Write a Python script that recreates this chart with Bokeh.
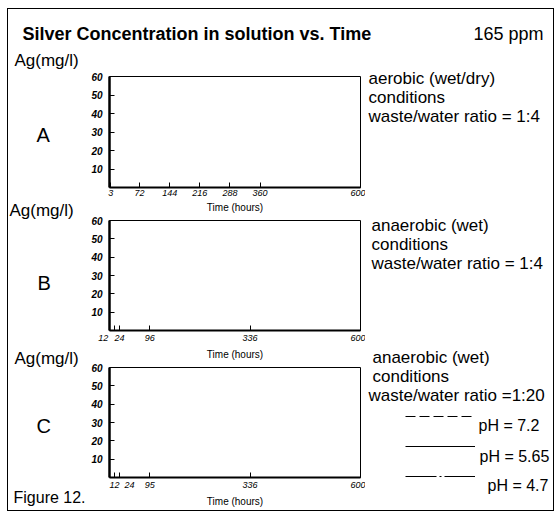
from bokeh.plotting import figure
from bokeh.models import Range1d, FixedTicker, Label, Legend, LegendItem, Spacer
from bokeh.layouts import column, row
from bokeh.embed import file_html
from bokeh.resources import INLINE

# ---- chart content ----
chart_title = "Silver Concentration in solution vs. Time"
concentration = "165 ppm"
y_label = "Ag(mg/l)"
x_label = "Time (hours)"
figure_caption = "Figure 12."
y_ticks = [10, 20, 30, 40, 50, 60]
a_ticks = [3, 72, 144, 216, 288, 360, 600]
b_ticks = [12, 24, 96, 336, 600]
c_ticks = [12, 24, 96, 336, 600]
c_tick_labels = ["12", "24", "95", "336", "600"]
panel_names = ["A", "B", "C"]
conditions = ["aerobic (wet/dry)", "anaerobic (wet)", "anaerobic (wet)"]
ratios = ["= 1:4", "= 1:4", "=1:20"]
ph_values = ["7.2", "5.65", "4.7"]
ph_dashes = ["10 4", "solid", "31 3 2 3"]
x_max = 600
y_max = 60

FONT = "Liberation Sans"
NAN = float("nan")
BORDER_X = (7, 553)   # outer frame, page pixels
BORDER_Y = (8, 510)


def make_panel(fl, fr, h, bt, bb, ticks, labels=None):
    p = figure(width=280, height=h, x_range=Range1d(0, x_max),
               y_range=Range1d(0, y_max), output_backend="svg",
               toolbar_location=None, min_border_left=fl, min_border_right=fr,
               min_border_top=bt, min_border_bottom=bb)
    p.grid.visible = False
    p.outline_line_color = "black"
    p.outline_line_width = 1
    p.outline_line_alpha = 1
    p.background_fill_color = "white"
    p.border_fill_color = "white"
    for ax in (p.xaxis[0], p.yaxis[0]):
        ax.major_tick_in = 5
        ax.major_tick_out = 0
        ax.minor_tick_in = 0
        ax.minor_tick_out = 0
        ax.major_tick_line_color = "black"
        ax.axis_line_color = "black"
        ax.major_label_text_color = "black"
        ax.major_label_text_font = FONT
    p.yaxis.ticker = FixedTicker(ticks=y_ticks)
    p.yaxis.axis_line_width = 2.5
    p.yaxis.major_label_standoff = 7
    p.yaxis.major_label_text_font_size = "10px"
    p.yaxis.major_label_text_font_style = "bold italic"
    p.xaxis.ticker = FixedTicker(ticks=ticks)
    p.xaxis.axis_line_width = 2
    p.xaxis.major_label_standoff = 2
    p.xaxis.major_label_text_font_size = "9px"
    p.xaxis.major_label_text_font_style = "italic"
    p.xaxis.axis_label = x_label
    p.xaxis.axis_label_standoff = 3
    p.xaxis.axis_label_text_font = FONT
    p.xaxis.axis_label_text_font_size = "10px"
    p.xaxis.axis_label_text_font_style = "normal"
    p.xaxis.axis_label_text_color = "black"
    if labels is not None:
        p.xaxis.major_label_overrides = labels
    return p


def text_canvas(x0, x1, y0, y1):
    # a transparent canvas whose units are the page's pixels (y counted downward as -y)
    p = figure(width=x1 - x0, height=y1 - y0, x_range=Range1d(x0, x1),
               y_range=Range1d(-y1, -y0), output_backend="svg",
               toolbar_location=None, min_border=0,
               x_axis_location=None, y_axis_location=None)
    p.grid.visible = False
    p.outline_line_color = None
    p.background_fill_alpha = 0
    p.border_fill_alpha = 0
    # the part of the outer frame that falls inside this strip
    xl, xr = BORDER_X
    yt, yb = -BORDER_Y[0], -BORDER_Y[1]
    p.segment(x0=[xl, xl, xr, xl], y0=[yt, yt, yt, yb],
              x1=[xr, xl, xr, xr], y1=[yt, yb, yb, yb],
              line_color="black", line_width=1)
    return p


def put(p, text, px, py, size, style="normal", align="left"):
    p.add_layout(Label(x=px, y=-py, text=text, text_font=FONT,
                       text_font_size=f"{size}px", text_font_style=style,
                       text_align=align, text_baseline="middle",
                       text_color="black"))


pad = "\u00a0"
b_labels = {b_ticks[0]: str(b_ticks[0]) + pad * 9}
c_labels = {t: (pad * 8 + lab if t == 24 else lab) for t, lab in zip(c_ticks, c_tick_labels)}

# panels (middle column, x 85..365, y 50..509)
pa = make_panel(19, 5, 165, 26, 27, a_ticks)
pb = make_panel(22, 4, 147, 5, 27, b_ticks, b_labels)
pc = make_panel(24, 2, 147, 5, 28, c_ticks, c_labels)

# title strip
top = text_canvas(7, 554, 8, 50)
put(top, chart_title, 22, 33, 18, "bold")
put(top, concentration, 473, 33, 18)

# left strip
left = text_canvas(7, 85, 50, 509)
put(left, y_label, 14, 60, 17)
put(left, panel_names[0], 36, 134, 20)
put(left, y_label, 9, 210, 17)
put(left, panel_names[1], 37, 282, 20)
put(left, y_label, 14, 358, 17)
put(left, panel_names[2], 36, 425, 20)
put(left, figure_caption, 13, 497, 16)

# right strip
right = text_canvas(365, 554, 50, 509)
put(right, conditions[0], 368, 78, 17)
put(right, "conditions", 368, 97, 17)
put(right, "waste/water ratio " + ratios[0], 368, 116, 17)
put(right, conditions[1], 371, 225, 17)
put(right, "conditions", 371, 244, 17)
put(right, "waste/water ratio " + ratios[1], 371, 263, 17)
put(right, conditions[2], 372, 357, 17)
put(right, "conditions", 372, 376, 17)
put(right, "waste/water ratio " + ratios[2], 368, 395, 17)

# bottom edge of the outer frame
bottom = text_canvas(7, 554, 509, 511)

# series of panel C (no visible data): key samples, labels set below-right
items = []
for ph, dash in zip(ph_values, ph_dashes):
    r = right.line(x=[NAN], y=[NAN], line_color="black", line_width=1, line_dash=dash)
    items.append(LegendItem(label=" ", renderers=[r]))
legend = Legend(items=items, location=(40, 23), glyph_width=70, glyph_height=20,
                label_height=20, label_width=1, spacing=10, padding=0, margin=0,
                label_standoff=0, border_line_alpha=0, background_fill_alpha=0,
                label_text_font=FONT, label_text_font_size="17px")
right.add_layout(legend)
put(right, "pH = " + ph_values[0], 478, 425, 16)
put(right, "pH = " + ph_values[1], 479, 456, 16)
put(right, "pH = " + ph_values[2], 487, 485, 16)

framed = column(top, row(left, column(pa, pb, pc), right), bottom,
                styles={"box-shadow": "inset 0 0 0 1px black"})
layout = row(Spacer(width=7), column(Spacer(height=8), framed))
open("out.html", "w").write(file_html(layout, INLINE))
